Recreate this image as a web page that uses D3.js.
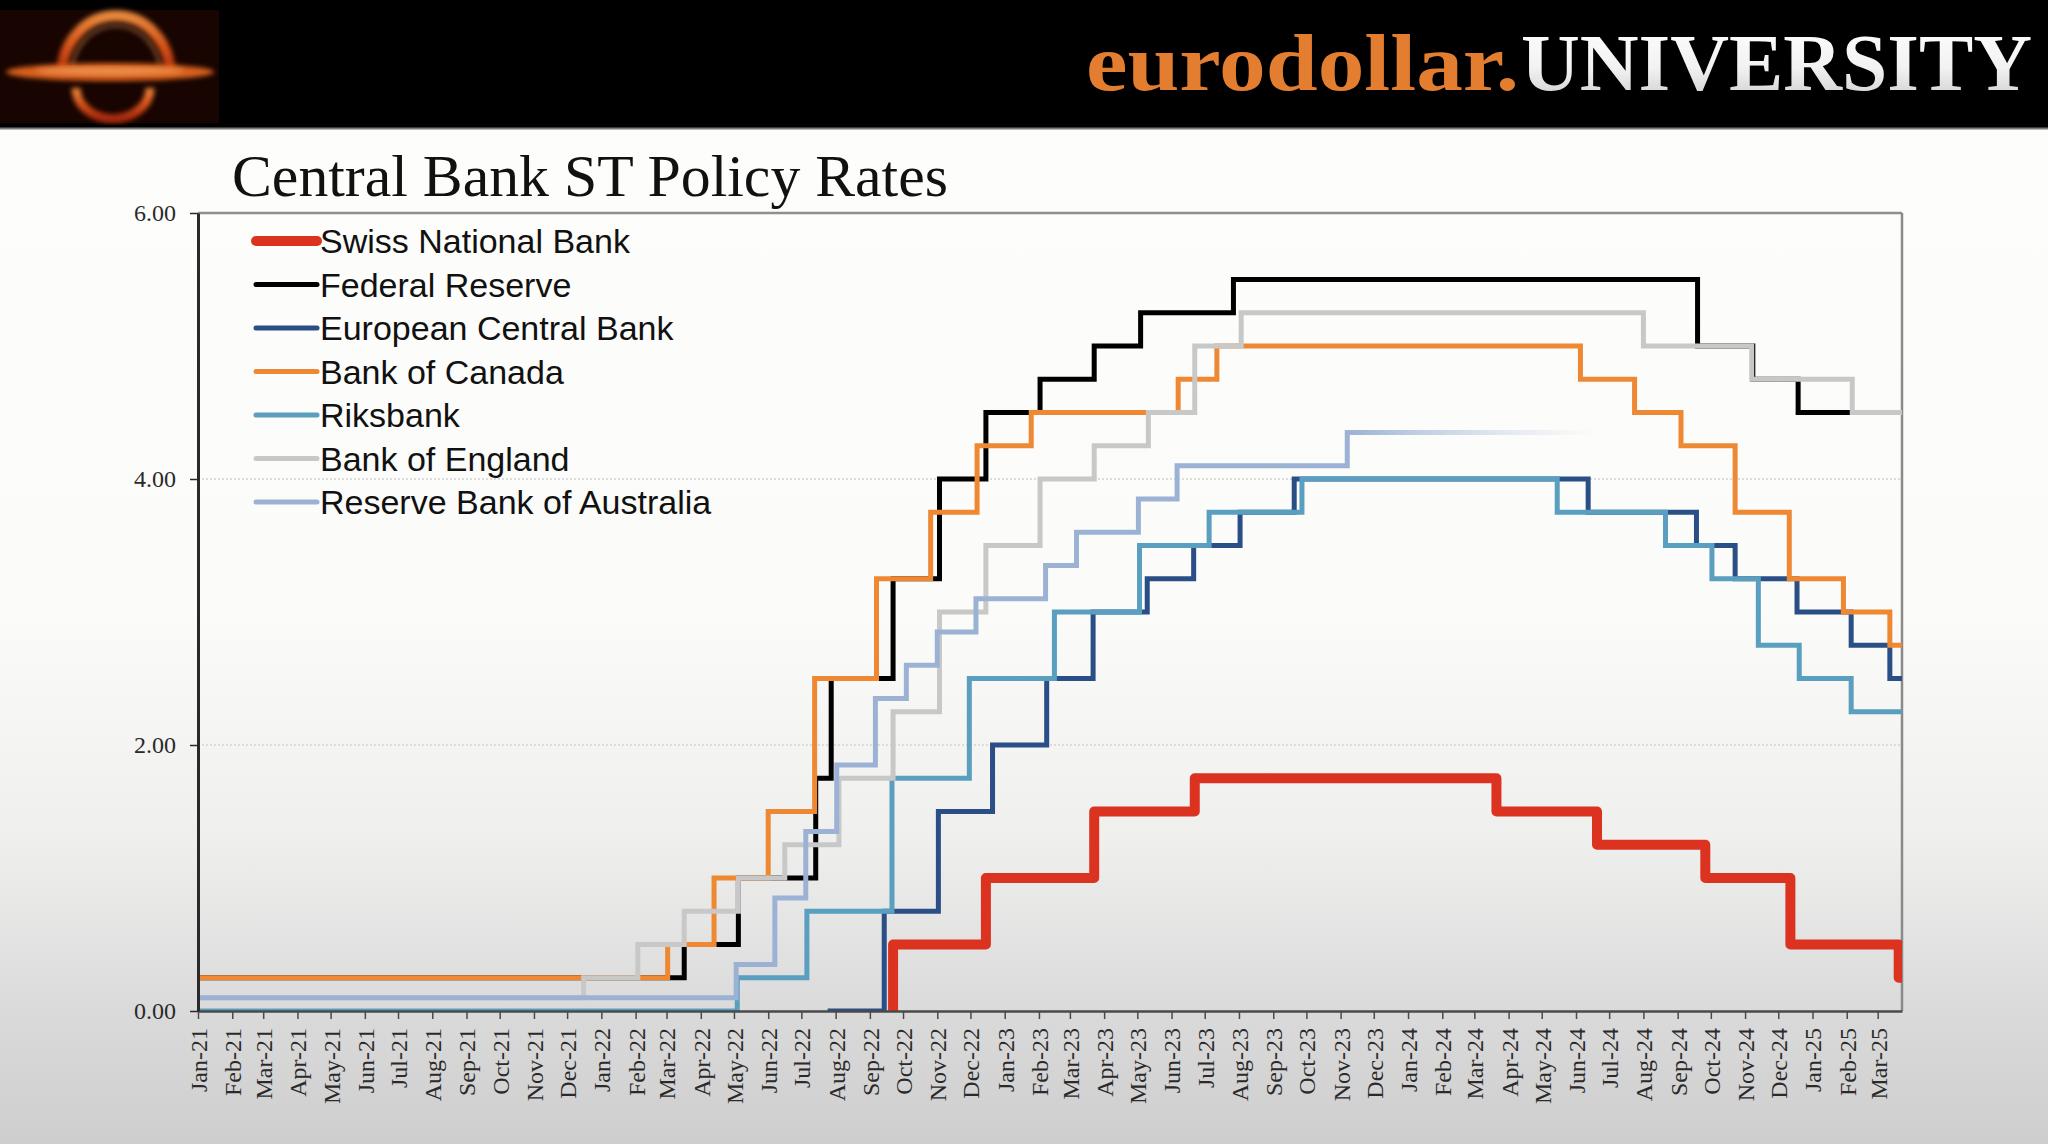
<!DOCTYPE html>
<html>
<head>
<meta charset="utf-8">
<script src="https://cdn.jsdelivr.net/npm/d3@7"></script>
<style>
html,body{margin:0;padding:0;background:#000;}
svg{display:block;}
</style>
</head>
<body>
<svg id="chart" width="2048" height="1144"></svg>
<script>
// ---------------- DATA ----------------
const banks = ["Swiss National Bank","Federal Reserve","European Central Bank","Bank of Canada","Riksbank","Bank of England","Reserve Bank of Australia"];
const yTickValues = [0, 2, 4, 6];
const axisStart = "2021-01-01";
const axisEnd = "2025-03-23";

const snbDates  = ["2021-01-01","2022-06-16","2022-09-22","2022-12-15","2023-03-23","2023-06-22","2024-03-21","2024-06-20","2024-09-26","2024-12-12","2025-03-20"];
const snbRates  = [-0.75,-0.25,0.50,1.00,1.50,1.75,1.50,1.25,1.00,0.50,0.25];

const fedDates  = ["2021-01-01","2022-03-17","2022-05-05","2022-07-14","2022-07-28","2022-09-22","2022-11-03","2022-12-15","2023-02-02","2023-03-23","2023-05-04","2023-07-27","2024-09-19","2024-11-08","2024-12-19"];
const fedRates  = [0.25,0.50,1.00,1.75,2.50,3.25,4.00,4.50,4.75,5.00,5.25,5.50,5.00,4.75,4.50];

const ecbDates  = ["2021-01-01","2022-07-27","2022-09-14","2022-11-02","2022-12-21","2023-02-08","2023-03-22","2023-05-10","2023-06-21","2023-08-02","2023-09-20","2024-06-12","2024-09-18","2024-10-23","2024-12-18","2025-02-05","2025-03-12"];
const ecbRates  = [-0.50,0.00,0.75,1.50,2.00,2.50,3.00,3.25,3.50,3.75,4.00,3.75,3.50,3.25,3.00,2.75,2.50];

const bocDates  = ["2021-01-01","2022-03-02","2022-04-13","2022-06-01","2022-07-13","2022-09-07","2022-10-26","2022-12-07","2023-01-25","2023-06-07","2023-07-12","2024-06-05","2024-07-24","2024-09-04","2024-10-23","2024-12-11","2025-01-29","2025-03-12"];
const bocRates  = [0.25,0.50,1.00,1.50,2.50,3.25,3.75,4.25,4.50,4.75,5.00,4.75,4.50,4.25,3.75,3.25,3.00,2.75];

const riksDates = ["2021-01-01","2022-05-04","2022-07-06","2022-09-21","2022-11-30","2023-02-15","2023-05-03","2023-07-05","2023-09-27","2024-05-15","2024-08-21","2024-10-02","2024-11-13","2024-12-20","2025-02-05"];
const riksRates = [0.00,0.25,0.75,1.75,2.50,3.00,3.50,3.75,4.00,3.75,3.50,3.25,2.75,2.50,2.25];

const boeDates  = ["2021-01-01","2021-12-16","2022-02-03","2022-03-17","2022-05-05","2022-06-16","2022-08-04","2022-09-22","2022-11-03","2022-12-15","2023-02-02","2023-03-23","2023-05-11","2023-06-22","2023-08-03","2024-08-01","2024-11-07","2025-02-06"];
const boeRates  = [0.10,0.25,0.50,0.75,1.00,1.25,1.75,2.25,3.00,3.50,4.00,4.25,4.50,5.00,5.25,5.00,4.75,4.50];

const rbaDates  = ["2021-01-01","2022-05-03","2022-06-07","2022-07-05","2022-08-02","2022-09-06","2022-10-04","2022-11-01","2022-12-06","2023-02-07","2023-03-07","2023-05-02","2023-06-06","2023-11-07","2024-06-18"];
const rbaRates  = [0.10,0.35,0.85,1.35,1.85,2.35,2.60,2.85,3.10,3.35,3.60,3.85,4.10,4.35,4.35];

// -------------- STYLES / LAYOUT --------------
const seriesColors = ["#dc3320","#000000","#2a4f87","#ee8833","#5a9ec0","#c8c8c8","#9bb2d5"];
const seriesWidths = [10,5,5,5,5,5,5];
const W = 2048, H = 1144, headerH = 128;
const plot = {left:198, right:1902, top:213, bottom:1011};

const parse = d3.timeParse("%Y-%m-%d");
const svg = d3.select("#chart");
const defs = svg.append("defs");

// ---------- background ----------
const bgGrad = defs.append("linearGradient").attr("id","bgGrad")
  .attr("x1",0).attr("y1",0).attr("x2",0).attr("y2",1);
[[0,"#fdfdfb"],[0.48,"#fbfbf9"],[0.70,"#efefee"],[0.87,"#dadada"],[1,"#cecece"]]
  .forEach(([o,c]) => bgGrad.append("stop").attr("offset",o).attr("stop-color",c));
svg.append("rect").attr("x",0).attr("y",headerH).attr("width",W).attr("height",H-headerH).attr("fill","url(#bgGrad)");

// ---------- header ----------
svg.append("rect").attr("x",0).attr("y",0).attr("width",W).attr("height",headerH).attr("fill","#000");
svg.append("line").attr("x1",0).attr("x2",W).attr("y1",headerH+0.5).attr("y2",headerH+0.5)
  .attr("stroke","#7a7a7a").attr("stroke-width",2);

// logo (decorative)
const glow = defs.append("filter").attr("id","glow").attr("x","-20%").attr("y","-20%").attr("width","140%").attr("height","140%");
glow.append("feGaussianBlur").attr("stdDeviation",2.6);
const ringGrad = defs.append("linearGradient").attr("id","ringGrad").attr("x1",0).attr("y1",0).attr("x2",0).attr("y2",1);
[[0,"#e8883c"],[0.5,"#d8561a"],[1,"#a8280a"]].forEach(([o,c]) => ringGrad.append("stop").attr("offset",o).attr("stop-color",c));
const logo = svg.append("g");
logo.append("rect").attr("x",0).attr("y",10).attr("width",219).attr("height",113).attr("fill","#180401");
logo.append("path").attr("d","M 62 74 A 52 56 0 0 1 170 74").attr("fill","none")
  .attr("stroke","url(#ringGrad)").attr("stroke-width",11).attr("filter","url(#glow)");
logo.append("path").attr("d","M 72 74 A 43 47 0 0 1 160 74").attr("fill","none")
  .attr("stroke","#f0a060").attr("stroke-width",2).attr("opacity",0.7).attr("filter","url(#glow)");
logo.append("path").attr("d","M 76 88 A 36 30 0 0 0 150 88").attr("fill","none")
  .attr("stroke","url(#ringGrad)").attr("stroke-width",9).attr("filter","url(#glow)");
logo.append("ellipse").attr("cx",110).attr("cy",72).attr("rx",104).attr("ry",9)
  .attr("fill","#d8601f").attr("filter","url(#glow)");
logo.append("ellipse").attr("cx",110).attr("cy",71).attr("rx",74).attr("ry",4)
  .attr("fill","#f3a060").attr("opacity",0.7).attr("filter","url(#glow)");

const uniGrad = defs.append("linearGradient").attr("id","uniGrad").attr("x1",0).attr("y1",0).attr("x2",0).attr("y2",1);
[[0,"#ffffff"],[0.55,"#f2f2f2"],[1,"#c9c9c9"]].forEach(([o,c]) => uniGrad.append("stop").attr("offset",o).attr("stop-color",c));
svg.append("text").attr("x",1086).attr("y",90).attr("font-family","Liberation Serif").attr("font-weight","bold")
  .attr("font-size",80).attr("fill","#e37d2f").attr("textLength",433).attr("lengthAdjust","spacingAndGlyphs")
  .text("eurodollar.");
svg.append("text").attr("x",1521).attr("y",90).attr("font-family","Liberation Serif").attr("font-weight","bold")
  .attr("font-size",80).attr("fill","url(#uniGrad)").attr("textLength",511).attr("lengthAdjust","spacingAndGlyphs")
  .text("UNIVERSITY");

// ---------- title ----------
svg.append("text").attr("x",232).attr("y",196).attr("font-family","Liberation Serif")
  .attr("font-size",59).attr("fill","#111").attr("textLength",716).attr("lengthAdjust","spacingAndGlyphs")
  .text("Central Bank ST Policy Rates");

// ---------- scales ----------
const x = d3.scaleTime().domain([parse(axisStart), parse(axisEnd)]).range([plot.left, plot.right]);
const y = d3.scaleLinear().domain([0, 6]).range([plot.bottom, plot.top]);

// gridlines
svg.append("g").selectAll("line").data(yTickValues.filter(v => v > 0 && v < 6)).join("line")
  .attr("x1",plot.left).attr("x2",plot.right).attr("y1",d => y(d)).attr("y2",d => y(d))
  .attr("stroke","#d2d2d2").attr("stroke-width",1.5).attr("stroke-dasharray","2,2");

// plot border (top & right)
svg.append("line").attr("x1",plot.left).attr("x2",plot.right).attr("y1",y(6)).attr("y2",y(6))
  .attr("stroke","#8e8e8e").attr("stroke-width",2.5);
svg.append("line").attr("x1",plot.right).attr("x2",plot.right).attr("y1",plot.top).attr("y2",plot.bottom)
  .attr("stroke","#8a8a8a").attr("stroke-width",2.5);

// ---------- series ----------
defs.append("clipPath").attr("id","plotClip").append("rect")
  .attr("x",plot.left).attr("y",plot.top).attr("width",plot.right-plot.left).attr("height",plot.bottom-plot.top);

const allDates = [snbDates, fedDates, ecbDates, bocDates, riksDates, boeDates, rbaDates];
const allRates = [snbRates, fedRates, ecbRates, bocRates, riksRates, boeRates, rbaRates];
const series = banks.map((name, i) => {
  const pts = allDates[i].map((d, j) => ({date: parse(d), value: allRates[i][j]}));
  if (i < 6) pts.push({date: parse(axisEnd), value: allRates[i][allRates[i].length - 1]});
  return {name, pts, color: seriesColors[i], width: seriesWidths[i]};
});

// RBA fade (last segment fades out)
const rbaFade = defs.append("linearGradient").attr("id","rbaFade").attr("gradientUnits","userSpaceOnUse")
  .attr("x1", x(parse(rbaDates[rbaDates.length-2]))).attr("x2", x(parse(rbaDates[rbaDates.length-1])))
  .attr("y1",0).attr("y2",0);
[[0,1],[0.3,0.6],[0.7,0.2],[1,0]].forEach(([o,a]) =>
  rbaFade.append("stop").attr("offset",o).attr("stop-color",seriesColors[6]).attr("stop-opacity",a));

const line = d3.line().x(d => x(d.date)).y(d => y(d.value)).curve(d3.curveStepAfter);
const lines = svg.append("g").attr("clip-path","url(#plotClip)");
series.forEach((s, i) => {
  lines.append("path").datum(s.pts).attr("d", line).attr("fill","none")
    .attr("stroke", i === 6 ? "url(#rbaFade)" : s.color)
    .attr("stroke-width", s.width)
    .attr("stroke-linejoin", i === 0 ? "round" : "miter")
    .attr("stroke-linecap","butt");
});

// ---------- axes ----------
const xAxis = d3.axisBottom(x).ticks(d3.timeMonth.every(1)).tickFormat(d3.timeFormat("%b-%y"))
  .tickSize(8).tickSizeOuter(0);
const gx = svg.append("g").attr("transform",`translate(0,${plot.bottom})`).call(xAxis);
gx.select(".domain").attr("stroke","#4a4a4a").attr("stroke-width",2.5);
gx.selectAll(".tick line").attr("stroke","#4a4a4a").attr("stroke-width",1.5);
gx.selectAll(".tick text").attr("transform","rotate(-90)").attr("text-anchor","end")
  .attr("x",-17).attr("y",0).attr("dy","0.35em")
  .attr("font-family","Liberation Serif").attr("font-size",24).attr("fill","#2a2a2a");

const yAxis = d3.axisLeft(y).tickValues(yTickValues).tickFormat(d3.format(".2f")).tickSize(8).tickPadding(14).tickSizeOuter(0);
const gy = svg.append("g").attr("transform",`translate(${plot.left},0)`).call(yAxis);
gy.select(".domain").attr("stroke","#2a2a2a").attr("stroke-width",3);
gy.selectAll(".tick line").attr("stroke","#2a2a2a").attr("stroke-width",1.5);
gy.selectAll(".tick text").attr("font-family","Liberation Serif").attr("font-size",24).attr("fill","#2a2a2a");

// ---------- legend ----------
const legend = svg.append("g").attr("transform","translate(256,241)");
const rows = legend.selectAll("g").data(series).join("g").attr("transform",(d,i) => `translate(0,${i*43.5})`);
rows.append("line").attr("x1",0).attr("x2",61).attr("y1",0).attr("y2",0)
  .attr("stroke",d => d.color).attr("stroke-width",d => d.width).attr("stroke-linecap","round");
rows.append("text").attr("x",64).attr("y",0).attr("dy","0.36em")
  .attr("font-family","Liberation Sans").attr("font-size",34).attr("fill","#111").text(d => d.name);
</script>
</body>
</html>
